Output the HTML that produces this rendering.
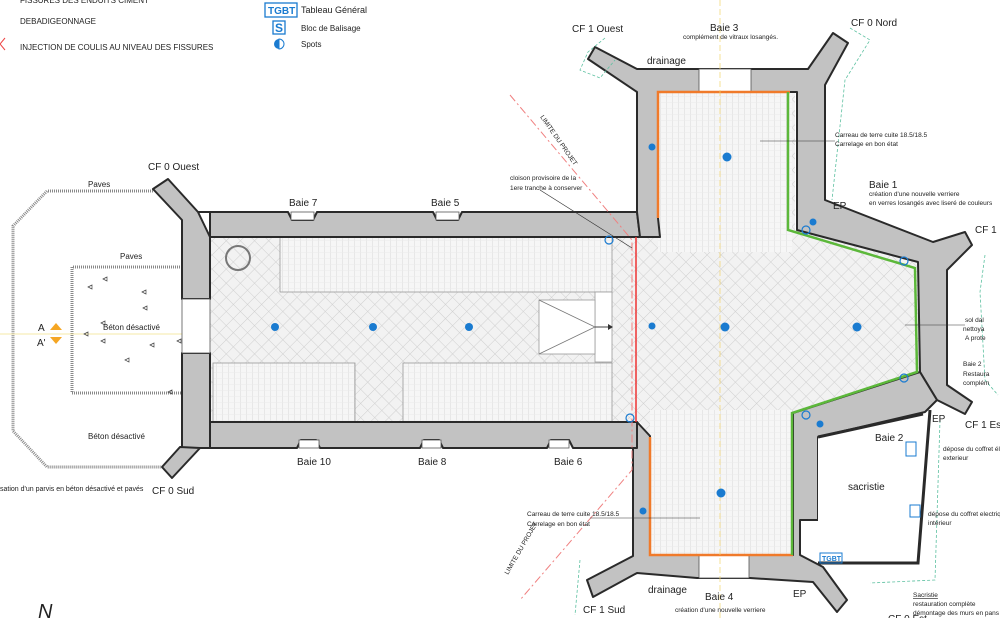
<!DOCTYPE html>
<html><head><meta charset="utf-8"><style>
html,body{margin:0;padding:0;background:#fff}
svg{display:block}
text{font-family:"Liberation Sans",sans-serif;fill:#222}
</style></head><body>
<svg width="1000" height="618" viewBox="0 0 1000 618" xmlns="http://www.w3.org/2000/svg">
<defs>
<pattern id="hx" width="10" height="10" patternUnits="userSpaceOnUse" patternTransform="rotate(45)">
<rect width="10" height="10" fill="#f2f2f2"/>
<path d="M0 0H10M0 0V10" stroke="#cfcfcf" stroke-width="1"/>
</pattern>
<pattern id="gr" width="6" height="6" patternUnits="userSpaceOnUse">
<rect width="6" height="6" fill="#f6f6f6"/>
<path d="M0 0V6" stroke="#d8d8d8" stroke-width="1"/>
<path d="M0 0H6" stroke="#ebebeb" stroke-width="1"/>
</pattern>
</defs>

<!-- legend -->
<text x="20" y="3" font-size="8">FISSURES DES ENDUITS CIMENT</text>
<text x="20" y="24" font-size="8">DEBADIGEONNAGE</text>
<text x="20" y="50" font-size="8">INJECTION DE COULIS AU NIVEAU DES FISSURES</text>
<path d="M5 38 L0 44 L5 50" stroke="#e44" fill="none"/>
<rect x="265" y="3" width="32" height="14" fill="none" stroke="#1a7bd0" stroke-width="1.3"/>
<text x="268" y="14" font-size="10" font-weight="bold" style="fill:#1a7bd0">TGBT</text>
<text x="301" y="13" font-size="9">Tableau Général</text>
<rect x="273" y="21" width="12" height="13" fill="none" stroke="#1a7bd0" stroke-width="1.3"/>
<text x="275" y="32" font-size="12" font-weight="bold" style="fill:#1a7bd0">S</text>
<text x="301" y="31" font-size="8">Bloc de Balisage</text>
<circle cx="279" cy="44" r="5" fill="#1a7bd0"/><path d="M279 39 A5 5 0 0 1 279 49Z" fill="#fff" stroke="#1a7bd0"/>
<text x="301" y="47" font-size="8">Spots</text>

<!-- porch -->
<path d="M153,191 L47,191 L13,226 L13,431 L47,467 L162,467" fill="none" stroke="#888" stroke-width="3" stroke-dasharray="1 1"/>
<path d="M182,267 L72,267 L72,393 L183,393" fill="none" stroke="#888" stroke-width="3" stroke-dasharray="1 1"/>
<line x1="0" y1="334" x2="220" y2="334" stroke="#f2e08a" stroke-width="0.7"/>
<text x="88" y="187" font-size="8">Paves</text>
<text x="120" y="259" font-size="8">Paves</text>
<text x="103" y="330" font-size="8">Béton désactivé</text>
<text x="88" y="439" font-size="8">Béton désactivé</text>
<text x="0" y="491" font-size="7">sation d'un parvis en béton désactivé et pavés</text>
<text x="38" y="331" font-size="10">A</text><text x="37" y="346" font-size="10">A'</text>
<polygon points="50,330 56,323 62,330" fill="#f5a623"/><polygon points="50,337 56,344 62,337" fill="#f5a623"/>
<g fill="none" stroke="#444" stroke-width="0.7">
<path d="M88 287l4-2v4z M103 279l4-2v4z M142 292l4-2v4z M143 308l4-2v4z M84 334l4-2v4z M101 323l4-2v4z M101 341l4-2v4z M150 345l4-2v4z M125 360l4-2v4z M168 392l4-2v4z M177 341l4-2v4z"/>
</g>

<!-- floors -->
<rect x="210" y="237" width="430" height="185" fill="url(#hx)"/>
<polygon points="658,92 795,92 795,230 918,262 920,372 795,413 795,555 650,555 650,436 640,422 640,237 658,237" fill="url(#hx)"/>
<rect x="658" y="92" width="134" height="160" fill="url(#gr)"/>
<rect x="650" y="410" width="142" height="145" fill="url(#gr)"/>
<rect x="280" y="237" width="332" height="55" fill="url(#gr)" stroke="#999" stroke-width="0.8"/>
<rect x="213" y="363" width="142" height="59" fill="url(#gr)" stroke="#999" stroke-width="0.8"/>
<rect x="403" y="363" width="209" height="59" fill="url(#gr)" stroke="#999" stroke-width="0.8"/>
<rect x="595" y="292" width="17" height="70" fill="#fff" stroke="#999" stroke-width="0.8"/>
<rect x="539" y="300" width="56" height="54" fill="#fff" stroke="#999" stroke-width="0.8"/>
<path d="M539 300 L595 327 L539 354" fill="none" stroke="#777" stroke-width="0.8"/>
<path d="M595 327 H610" stroke="#444"/><polygon points="608,324 613,327 608,330" fill="#333"/>
<circle cx="238" cy="258" r="12" fill="none" stroke="#777" stroke-width="2"/>

<!-- walls -->
<g fill="#c2c2c2" stroke="#2a2a2a" stroke-width="2" stroke-linejoin="round">
<polygon points="198,212 288,212 292,220 313,220 317,212 433,212 437,220 458,220 462,212 637,212 640,237 210,237 210,212"/>
<polygon points="153,189 168,179 198,212 210,237 210,299 182,299 182,220"/>
<polygon points="182,353 210,353 210,422 210,448 180,448 182,448"/>
<polygon points="162,467 180,447 200,448 172,478"/>
<polygon points="210,422 637,422 637,448 573,448 569,440 551,440 547,448 443,448 439,440 424,440 420,448 320,448 316,440 301,440 297,448 210,448"/>
<polygon points="588,59 595,47 637,69 697,69 752,69 808,69 833,33 848,43 825,85 825,200 933,242 965,232 972,245 947,270 947,385 972,402 965,414 937,400 920,372 918,262 797,230 797,92 658,92 658,218 660,237 640,237 637,212 637,92"/>
<polygon points="637,422 650,436 650,555 793,555 793,413 920,372 937,400 925,412 818,437 818,520 800,520 800,555 823,567 847,600 837,612 813,582 750,578 697,578 637,573 593,597 587,580 633,556 633,448 637,448"/>
</g>
<!-- sacristy -->
<polygon points="818,437 923,414 923,563 818,563" fill="#fff" stroke="none"/>
<path d="M818,437 L923,414 M930,410 L918,563 L818,563" fill="none" stroke="#2a2a2a" stroke-width="3"/>
<!-- windows white gaps -->
<g fill="#fff" stroke="#555" stroke-width="0.8">
<rect x="699" y="69" width="52" height="23"/>
<rect x="699" y="555" width="50" height="23"/>
<rect x="291" y="212" width="23" height="8"/><rect x="436" y="212" width="23" height="8"/>
<rect x="299" y="440" width="20" height="8"/><rect x="422" y="440" width="19" height="8"/><rect x="549" y="440" width="20" height="8"/>
<rect x="182" y="299" width="28" height="54"/>
</g>
<!-- coloured lines -->
<path d="M658,218 V92 H790" fill="none" stroke="#f07a2a" stroke-width="2.5"/>
<path d="M650,437 V555 H793" fill="none" stroke="#f07a2a" stroke-width="2.5"/>
<path d="M788,92 V230 L915,268 L917,372 L792,413 V555" fill="none" stroke="#5cb83a" stroke-width="2.5"/>
<line x1="636" y1="237" x2="636" y2="422" stroke="#e33" stroke-width="1.5"/>
<path d="M510,95 L632,240 L632,470 L520,600" fill="none" stroke="#f08080" stroke-width="1" stroke-dasharray="8 3 2 3"/>
<line x1="720" y1="0" x2="720" y2="618" stroke="#f2d36a" stroke-width="0.7" stroke-dasharray="6 3"/>
<path d="M605,38 L588,52 L580,70 L600,78 L615,60 M850,28 L870,40 L845,80 L832,200 M985,255 L980,292 L985,380 L998,395 M940,420 L935,580 L870,583 M580,560 L575,615" fill="none" stroke="#5cc0a0" stroke-width="0.8" stroke-dasharray="3 2"/>
<line x1="540" y1="190" x2="632" y2="248" stroke="#333" stroke-width="0.7"/>
<line x1="760" y1="141" x2="835" y2="141" stroke="#333" stroke-width="0.6"/>
<line x1="905" y1="325" x2="965" y2="325" stroke="#333" stroke-width="0.6"/>
<line x1="590" y1="518" x2="700" y2="518" stroke="#333" stroke-width="0.6"/>

<!-- spots -->
<g fill="#1a7bd0">
<circle cx="275" cy="327" r="4"/><circle cx="373" cy="327" r="4"/><circle cx="469" cy="327" r="4"/>
<circle cx="725" cy="327" r="4.5"/><circle cx="857" cy="327" r="4.5"/>
<circle cx="727" cy="157" r="4.5"/><circle cx="721" cy="493" r="4.5"/>
<circle cx="652" cy="147" r="3.5"/><circle cx="652" cy="326" r="3.5"/><circle cx="643" cy="511" r="3.5"/>
<circle cx="813" cy="222" r="3.5"/><circle cx="820" cy="424" r="3.5"/>
</g>
<g fill="none" stroke="#1a7bd0" stroke-width="1.2">
<circle cx="609" cy="240" r="4"/><circle cx="630" cy="418" r="4"/><circle cx="806" cy="230" r="4"/><circle cx="904" cy="261" r="4"/><circle cx="904" cy="378" r="4"/><circle cx="806" cy="415" r="4"/>
</g>
<rect x="906" y="442" width="10" height="14" fill="none" stroke="#1a7bd0"/>
<rect x="910" y="505" width="10" height="12" fill="none" stroke="#1a7bd0"/>
<rect x="820" y="553" width="22" height="10" fill="none" stroke="#1a7bd0"/>
<text x="822" y="561" font-size="7" font-weight="bold" style="fill:#1a7bd0">TGBT</text>

<!-- labels -->
<g font-size="10">
<text x="148" y="170">CF 0 Ouest</text>
<text x="152" y="494">CF 0 Sud</text>
<text x="289" y="206">Baie 7</text><text x="431" y="206">Baie 5</text>
<text x="297" y="465">Baie 10</text><text x="418" y="465">Baie 8</text><text x="554" y="465">Baie 6</text>
<text x="572" y="32">CF 1 Ouest</text>
<text x="710" y="31">Baie 3</text>
<text x="851" y="26">CF 0 Nord</text>
<text x="647" y="64">drainage</text>
<text x="869" y="188">Baie 1</text>
<text x="833" y="209">EP</text>
<text x="975" y="233">CF 1</text>
<text x="875" y="441">Baie 2</text>
<text x="932" y="422">EP</text>
<text x="965" y="428">CF 1 Es</text>
<text x="848" y="490">sacristie</text>
<text x="648" y="593">drainage</text>
<text x="705" y="600">Baie 4</text>
<text x="793" y="597">EP</text>
<text x="583" y="613">CF 1 Sud</text>
<text x="888" y="622">CF 0 Est</text>
</g>
<g font-size="6.5">
<text x="683" y="39">complément de vitraux losangés.</text>
<text x="835" y="137">Carreau de terre cuite 18.5/18.5</text>
<text x="835" y="146">Carrelage en bon état</text>
<text x="869" y="196">création d'une nouvelle verriere</text>
<text x="869" y="205">en verres losangés avec liseré de couleurs</text>
<text x="965" y="322">sol dal</text><text x="963" y="331">nettoya</text><text x="965" y="340">A prote</text>
<text x="963" y="366">Baie 2</text><text x="963" y="376">Restaura</text><text x="963" y="385">complém</text>
<text x="943" y="451">dépose du coffret él</text><text x="943" y="460">exterieur</text>
<text x="928" y="516">dépose du coffret electriq</text><text x="928" y="525">intérieur</text>
<text x="510" y="180">cloison provisoire de la</text>
<text x="510" y="190">1ere tranche à conserver</text>
<text x="527" y="516">Carreau de terre cuite 18.5/18.5</text>
<text x="527" y="526">Carrelage en bon état</text>
<text x="675" y="612">création d'une nouvelle verriere</text>
<text x="913" y="597" text-decoration="underline">Sacristie</text>
<text x="913" y="606">restauration complète</text>
<text x="913" y="615">démontage des murs en pans</text>
<text transform="translate(540,117) rotate(55)">LIMITE DU PROJET</text>
<text transform="translate(508,575) rotate(-60)">LIMITE DU PROJET</text>
</g>
<text x="38" y="618" font-size="20" font-style="italic">N</text>
</svg>
</body></html>
